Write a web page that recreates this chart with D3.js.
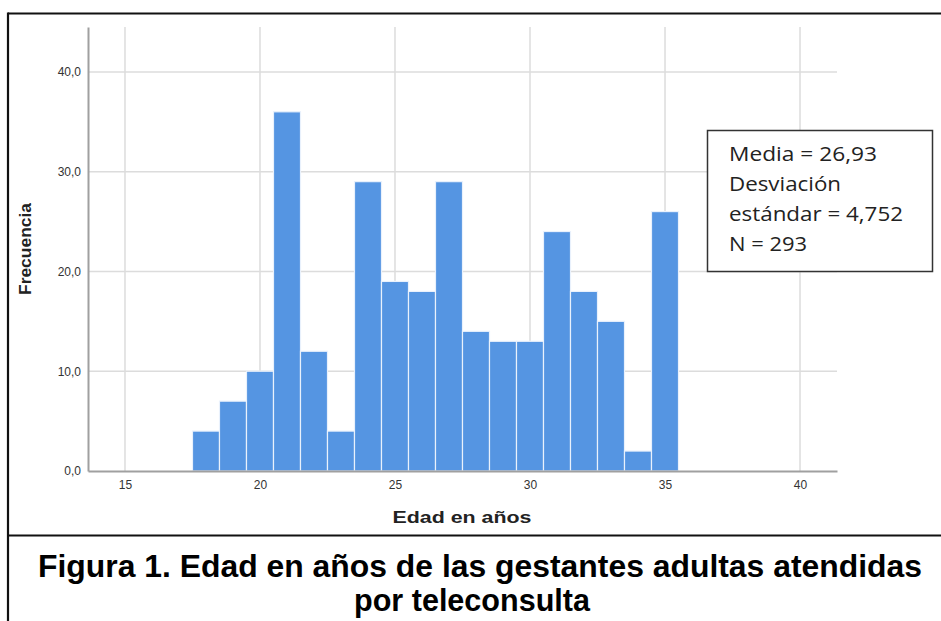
<!DOCTYPE html>
<html>
<head>
<meta charset="utf-8">
<script src="https://cdn.jsdelivr.net/npm/d3@7"></script>
<style>
  html, body { margin: 0; padding: 0; background: #fff; }
  svg { display: block; }
</style>
</head>
<body>
<svg id="chart" width="941" height="621"></svg>
<script>
// ---- Data ----
const ages = [18, 19, 20, 21, 22, 23, 24, 25, 26, 27, 28, 29, 30, 31, 32, 33, 34, 35];
const counts = [4, 7, 10, 36, 12, 4, 29, 19, 18, 29, 14, 13, 13, 24, 18, 15, 2, 26];
const xTicks = [15, 20, 25, 30, 35, 40];
const yTicks = [0, 10, 20, 30, 40];
const statsLines = ["Media = 26,93", "Desviación", "estándar = 4,752", "N = 293"];
const statsWidths = [148, 112, 174, 78];
const yTitle = "Frecuencia";
const xTitle = "Edad en años";
const captionLines = ["Figura 1. Edad en años de las gestantes adultas atendidas", "por teleconsulta"];
const captionWidths = [884, 236];

const svg = d3.select("#chart");
const W = 941, H = 621;

const x = d3.scaleLinear().domain([13.63, 41.37]).range([88, 837]);
const y = d3.scaleLinear().domain([0, 44.5]).range([471, 27]);

// Frame lines
svg.append("line").attr("x1", 8).attr("x2", W).attr("y1", 13.5).attr("y2", 13.5)
  .attr("stroke", "#111").attr("stroke-width", 2.2);
svg.append("line").attr("x1", 8).attr("x2", 8).attr("y1", 12.5).attr("y2", H)
  .attr("stroke", "#111").attr("stroke-width", 2.2);
svg.append("line").attr("x1", 7).attr("x2", W).attr("y1", 535.5).attr("y2", 535.5)
  .attr("stroke", "#111").attr("stroke-width", 2.2);

// Gridlines
const grid = svg.append("g");
grid.selectAll("line.h").data(yTicks.filter(d => d > 0)).join("line")
  .attr("x1", x.range()[0]).attr("x2", x.range()[1])
  .attr("y1", d => y(d)).attr("y2", d => y(d))
  .attr("stroke", "#dcdcdc").attr("stroke-width", 1.5);
grid.selectAll("line.v").data(xTicks).join("line")
  .attr("x1", d => x(d)).attr("x2", d => x(d))
  .attr("y1", y.range()[1]).attr("y2", y.range()[0])
  .attr("stroke", "#dcdcdc").attr("stroke-width", 1.5);

// Bars
svg.append("g").selectAll("rect").data(ages).join("rect")
  .attr("x", (d) => x(d - 0.5))
  .attr("width", (d) => x(d + 0.5) - x(d - 0.5))
  .attr("y", (d, i) => y(counts[i]))
  .attr("height", (d, i) => y(0) - y(counts[i]))
  .attr("fill", "#5595e2")
  .attr("stroke", "#e9f1fc")
  .attr("stroke-width", 1.2);

// Axes
const fmt = d => d.toFixed(1).replace(".", ",");
const yAxis = svg.append("g").attr("transform", `translate(${x.range()[0]},0)`)
  .call(d3.axisLeft(y).tickValues(yTicks).tickFormat(fmt).tickSize(0).tickPadding(7));
const xAxis = svg.append("g").attr("transform", `translate(0,${y.range()[0]})`)
  .call(d3.axisBottom(x).tickValues(xTicks).tickFormat(d3.format("d")).tickSize(0).tickPadding(9));
[yAxis, xAxis].forEach(g => {
  g.select(".domain").attr("stroke", "#a0a0a0").attr("stroke-width", 2);
  g.selectAll("text").attr("font-family", "'Liberation Sans', Arial, sans-serif")
    .attr("font-size", 12).attr("fill", "#333");
});

// Axis titles
svg.append("text")
  .attr("transform", "translate(31,249) rotate(-90)")
  .attr("text-anchor", "middle")
  .attr("font-family", "'Liberation Sans', Arial, sans-serif")
  .attr("font-weight", "bold").attr("font-size", 16.5).attr("fill", "#222")
  .attr("textLength", 92).attr("lengthAdjust", "spacingAndGlyphs")
  .text(yTitle);
svg.append("text")
  .attr("x", 462).attr("y", 523)
  .attr("text-anchor", "middle")
  .attr("font-family", "'Liberation Sans', Arial, sans-serif")
  .attr("font-weight", "bold").attr("font-size", 17).attr("fill", "#222")
  .attr("textLength", 139).attr("lengthAdjust", "spacingAndGlyphs")
  .text(xTitle);

// Stats box
svg.append("rect").attr("x", 707.5).attr("y", 130.5).attr("width", 225).attr("height", 141)
  .attr("fill", "#fff").attr("stroke", "#333").attr("stroke-width", 1.5);
svg.append("g").selectAll("text").data(statsLines).join("text")
  .attr("x", 729).attr("y", (d, i) => 161 + i * 30)
  .attr("font-family", "'Open Sans', 'Liberation Sans', sans-serif")
  .attr("font-size", 19.5).attr("fill", "#222")
  .attr("textLength", (d, i) => statsWidths[i]).attr("lengthAdjust", "spacingAndGlyphs")
  .text(d => d);

// Caption
svg.append("g").selectAll("text").data(captionLines).join("text")
  .attr("x", (d, i) => i === 0 ? 480 : 472).attr("y", (d, i) => 577 + i * 34)
  .attr("text-anchor", "middle")
  .attr("font-family", "'Liberation Sans', Arial, sans-serif")
  .attr("font-weight", "bold").attr("font-size", 31.5).attr("fill", "#000")
  .attr("textLength", (d, i) => captionWidths[i])
  .attr("lengthAdjust", "spacingAndGlyphs")
  .text(d => d);
</script>
</body>
</html>
